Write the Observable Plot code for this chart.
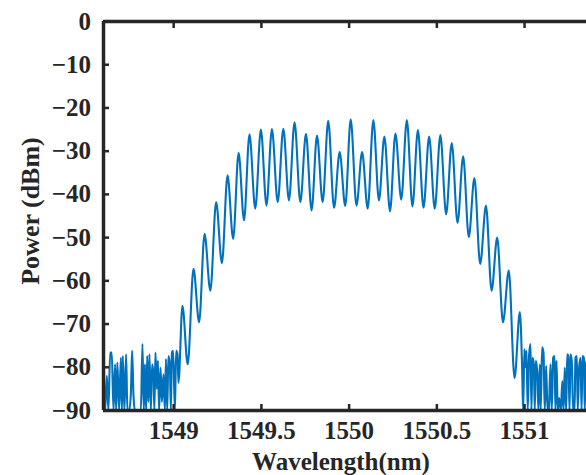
<!DOCTYPE html>
<html>
<head>
<meta charset="utf-8">
<script src="https://cdn.jsdelivr.net/npm/d3@7"></script>
<script src="https://cdn.jsdelivr.net/npm/@observablehq/plot@0.6"></script>
<style>
  html, body { margin: 0; padding: 0; background: #fff; }
</style>
</head>
<body>
<div id="chart"></div>
<script>
// Noise floor left of the comb (wavelength nm, power dBm)
const leftNoiseNm = [1548.598, 1548.600, 1548.609, 1548.619, 1548.628, 1548.638, 1548.647, 1548.657, 1548.666, 1548.672,
  1548.679, 1548.689, 1548.699, 1548.705, 1548.710, 1548.719, 1548.729, 1548.736, 1548.746, 1548.756,
  1548.763, 1548.771, 1548.779, 1548.790, 1548.801, 1548.813, 1548.822, 1548.830, 1548.836, 1548.843,
  1548.849, 1548.856, 1548.862, 1548.870, 1548.877, 1548.885, 1548.890, 1548.896, 1548.904, 1548.910,
  1548.917, 1548.925, 1548.933, 1548.942, 1548.950, 1548.956, 1548.963, 1548.970, 1548.978, 1548.984,
  1548.990, 1548.997, 1549.007, 1549.014, 1549.022, 1549.027];
const leftNoiseDb = [-81.5, -82.0, -90, -82.0, -90, -76.6, -76.6, -90, -79.3, -90,
  -78.9, -90, -77.8, -90, -77.4, -90, -77.0, -90, -90, -86.0,
  -76.2, -86.6, -90, -90, -90, -90, -74.6, -90, -79.3, -90,
  -77.4, -88.0, -77.0, -90, -79.3, -81.6, -90, -76.6, -85.0, -78.5,
  -90, -80.1, -88.0, -81.6, -90, -78.1, -90, -77.4, -79.3, -90,
  -76.6, -76.2, -90, -76.2, -77.0, -83.6];

// Comb lines: alternating peaks and troughs
const combNm = [1549.050, 1549.080, 1549.113, 1549.145, 1549.176, 1549.209, 1549.242, 1549.275, 1549.307, 1549.339,
  1549.370, 1549.401, 1549.432, 1549.465, 1549.497, 1549.529, 1549.560, 1549.593, 1549.625, 1549.657,
  1549.689, 1549.722, 1549.754, 1549.786, 1549.817, 1549.849, 1549.881, 1549.914, 1549.946, 1549.978,
  1550.009, 1550.042, 1550.074, 1550.106, 1550.138, 1550.170, 1550.201, 1550.233, 1550.264, 1550.297,
  1550.329, 1550.361, 1550.392, 1550.424, 1550.456, 1550.488, 1550.520, 1550.553, 1550.585, 1550.618,
  1550.650, 1550.682, 1550.714, 1550.747, 1550.780, 1550.812, 1550.844, 1550.877, 1550.910, 1550.943,
  1550.973, 1550.986];
const combDb = [-65.8, -79.3, -57.2, -69.6, -49.1, -62.3, -41.8, -55.9, -35.6, -50.3,
  -30.4, -46.0, -26.1, -43.3, -25.0, -42.6, -24.9, -41.8, -24.8, -41.4,
  -23.3, -41.8, -26.0, -43.7, -26.4, -41.8, -23.0, -43.1, -30.2, -42.7,
  -22.6, -42.6, -30.2, -43.3, -22.8, -41.4, -26.6, -43.9, -25.9, -41.2,
  -22.8, -42.8, -25.1, -43.1, -26.6, -43.3, -26.3, -44.6, -28.1, -46.6,
  -31.2, -49.9, -36.2, -56.1, -42.6, -62.3, -50.0, -69.6, -57.6, -82.5,
  -67.2, -80.0];

// Noise floor right of the comb
const rightNoiseNm = [1550.992, 1550.999, 1551.005, 1551.011, 1551.018, 1551.026, 1551.034, 1551.039, 1551.045, 1551.053,
  1551.058, 1551.064, 1551.072, 1551.079, 1551.087, 1551.092, 1551.100, 1551.108, 1551.115, 1551.123,
  1551.131, 1551.138, 1551.148, 1551.155, 1551.163, 1551.171, 1551.176, 1551.182, 1551.189, 1551.197,
  1551.207, 1551.215, 1551.222, 1551.229, 1551.237, 1551.243, 1551.250, 1551.256, 1551.262, 1551.269,
  1551.277, 1551.285, 1551.290, 1551.298, 1551.303, 1551.311, 1551.319, 1551.325, 1551.330, 1551.338,
  1551.343, 1551.349, 1551.360];
const rightNoiseDb = [-90, -75.8, -80.0, -76.2, -90, -77.0, -74.6, -90, -77.8, -79.3,
  -90, -78.5, -80.9, -90, -79.3, -90, -75.4, -76.6, -90, -79.7,
  -90, -89.8, -79.3, -90, -77.8, -77.4, -90, -78.5, -90, -87.1,
  -90, -83.2, -90, -80.1, -90, -77.0, -77.4, -90, -77.0, -78.5,
  -90, -90, -77.8, -77.4, -90, -80.1, -77.8, -90, -77.4, -77.8,
  -90, -79.3, -78.0];

const xTicks = [1549, 1549.5, 1550, 1550.5, 1551];
const yTicks = [0, -10, -20, -30, -40, -50, -60, -70, -80, -90];
const xDomain = [1548.6, 1551.353];
const yDomain = [-90, 0];

const spectrum = [
  ...leftNoiseNm.map((nm, i) => ({nm, db: leftNoiseDb[i]})),
  ...combNm.map((nm, i) => ({nm, db: combDb[i]})),
  ...rightNoiseNm.map((nm, i) => ({nm, db: rightNoiseDb[i]}))
];

const ink = "#262626";
const fmtY = d => d < 0 ? "\u2212" + Math.abs(d) : String(d);

const chart = Plot.plot({
  width: 586,
  height: 475,
  marginLeft: 103,
  marginTop: 21,
  marginBottom: 65,
  marginRight: 0,
  style: {
    fontFamily: "'Liberation Serif', 'Times New Roman', serif",
    fontWeight: "bold",
    color: ink,
    background: "#fff",
    overflow: "visible"
  },
  x: {domain: xDomain, label: null},
  y: {domain: yDomain, label: null},
  marks: [
    Plot.line(spectrum, {x: "nm", y: "db", stroke: "#0072BD", strokeWidth: 2.1, curve: "monotone-x", clip: true}),
    Plot.ruleY([yDomain[1]], {stroke: ink, strokeWidth: 3.5}),
    Plot.ruleY([yDomain[0]], {stroke: ink, strokeWidth: 3.5}),
    Plot.ruleX([xDomain[0]], {stroke: ink, strokeWidth: 3.5}),
    Plot.axisX(xTicks, {anchor: "bottom", tickSize: -6, tickPadding: 17, strokeWidth: 2.5, stroke: ink,
      tickFormat: d => String(d), fontSize: 25, fill: ink, label: null}),
    Plot.axisX(xTicks, {anchor: "top", tickSize: -6, strokeWidth: 2.5, stroke: ink, tickFormat: () => "", label: null}),
    Plot.axisY(yTicks, {anchor: "left", tickSize: -6, tickPadding: 18.5, strokeWidth: 2.5, stroke: ink,
      tickFormat: fmtY, fontSize: 25, fill: ink, label: null}),
    Plot.text(["Power (dBm)"], {frameAnchor: "left", dx: -73, dy: -5, rotate: -90, textAnchor: "middle", lineAnchor: "middle",
      fontSize: 26, fontWeight: "bold", fill: ink}),
    Plot.text(["Wavelength(nm)"], {frameAnchor: "bottom", dx: -4, dy: 51, textAnchor: "middle", lineAnchor: "middle",
      fontSize: 25, fontWeight: "bold", fill: ink})
  ]
});
document.getElementById("chart").appendChild(chart);
</script>
</body>
</html>
